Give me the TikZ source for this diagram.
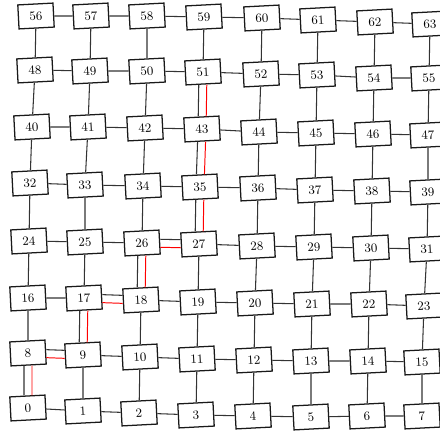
\documentclass[tikz,border=0pt]{standalone}
\usepackage{tikz}
\usetikzlibrary{positioning}
\tikzstyle{cell} = [rectangle, minimum width=0.88cm, minimum height=0.6cm, inner sep=0pt, draw=black!90, line width=0.9pt, fill=white, rotate=3, font=\small]
\tikzstyle{link} = [draw=black!80, line width=0.75pt]
\tikzstyle{route} = [draw=red, line width=0.7pt]

\begin{document}
\begin{tikzpicture}[x=0.025cm, y=-0.025cm]
    \clip (0,0) rectangle (440,432);
    % mesh cells, row by row from the bottom
    \foreach \n/\x/\y in {0/28/408, 1/83/411, 2/139/413, 3/196/415, 4/253/416, 5/311/417, 6/367/416, 7/422/416,
                          8/28/353, 9/83/355, 10/140/357, 11/197/359, 12/254/360, 13/311/361, 14/368/361, 15/422/362,
                          16/28/298, 17/84/298, 18/141/300, 19/198/302, 20/255/303, 21/312/304, 22/369/304, 23/424/306,
                          24/29/241, 25/85/242, 26/142/243, 27/199/244, 28/257/246, 29/314/247, 30/371/248, 31/427/249,
                          32/30/183, 33/85/185, 34/143/186, 35/200/187, 36/258/188, 37/315/190, 38/372/191, 39/428/192,
                          40/32/127, 41/88/127, 42/145/128, 43/202/129, 44/259/132, 45/316/133, 46/373/134, 47/428/135,
                          48/35/70, 49/90/71, 50/147/71, 51/203/72, 52/261/74, 53/317/75, 54/374/78, 55/429/78,
                          56/36/16, 57/91/16, 58/147/16, 59/204/17, 60/262/18, 61/318/20, 62/375/22, 63/430/24}
        \node (\n) [cell] at (\x,\y) {\n};

    % horizontal links
    \foreach \r in {0,...,7}
        \foreach \c in {0,...,6} {
            \pgfmathtruncatemacro{\a}{8*\r+\c}
            \pgfmathtruncatemacro{\b}{\a+1}
            \pgfmathtruncatemacro{\skip}{(\a==8)||(\a==17)||(\a==26)}
            \ifnum\skip=0 \draw [link] (\a) -- (\b); \fi
        }
    % vertical links
    \foreach \r in {0,...,6}
        \foreach \c in {0,...,7} {
            \pgfmathtruncatemacro{\a}{8*\r+\c}
            \pgfmathtruncatemacro{\b}{\a+8}
            \pgfmathtruncatemacro{\skip}{(\a==0)||(\a==9)||(\a==18)||(\a==27)||(\a==35)||(\a==43)}
            \ifnum\skip=0 \draw [link] (\a) -- (\b); \fi
        }

    % routed path
    \foreach \a/\b in {0/8, 9/17, 18/26, 27/35, 35/43, 43/51} {
        \draw [link, transform canvas={xshift=-0.1cm}] (\a) -- (\b);
        \draw [route, transform canvas={xshift=0.1cm}] (\a) -- (\b);
    }
    \foreach \a/\b in {8/9, 17/18, 26/27} {
        \draw [link, transform canvas={yshift=0.1cm}] (\a) -- (\b);
        \draw [route, transform canvas={yshift=-0.1cm}] (\a) -- (\b);
    }
\end{tikzpicture}
\end{document}
